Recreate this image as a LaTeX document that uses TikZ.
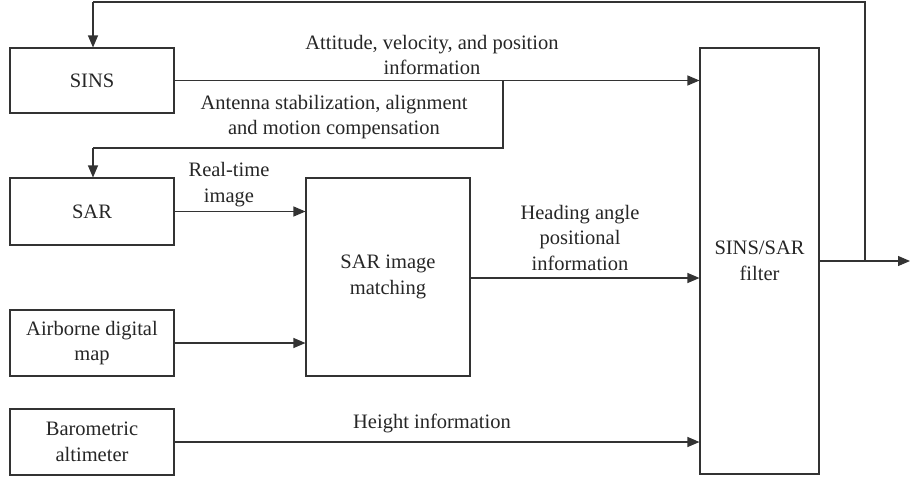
\documentclass[tikz,border=0pt]{standalone}
\usepackage{fontspec}
\setmainfont{Liberation Serif}
\newfontfamily\labfont{Liberation Serif}
\usetikzlibrary{arrows.meta}
\begin{document}
\begin{tikzpicture}[x=1pt,y=-1pt,
  every node/.style={font=\labfont\fontsize{20.5}{25.5}\selectfont, text=black!85, align=center, inner sep=0pt},
  blk/.style={draw=black!80, line width=1.1pt, minimum width=164pt},
  con/.style={draw=black!80, line width=1.1pt},
  arr/.style={con, -{Triangle[length=12pt,width=10pt]}}]
\useasboundingbox (0,0) rectangle (910,477);
% blocks
\node[blk, minimum height=65pt] (sins) at (92,80.5) {SINS};
\node[blk, minimum height=67pt] (sar) at (92,211.5) {SAR};
\node[blk, minimum height=66pt] (air) at (92,343) {Airborne digital\\map};
\node[blk, minimum height=66pt] (baro) at (92,442) {Barometric\\altimeter};
\node[blk, minimum height=198pt] (match) at (388,277) {SAR image\\matching};
\node[blk, minimum width=119pt, minimum height=426pt] (filt) at (759.5,261) {SINS/SAR\\filter};
% coordinates
\coordinate (b1) at (503,80.5);
\coordinate (b2) at (503,148);
\coordinate (b3) at (93,148);
\coordinate (f1) at (865,261);
\coordinate (fend) at (910,261);
\coordinate (t1) at (865,2);
\coordinate (t2) at (93,2);
% connectors
\draw[arr] (sins.east) -- (sins.east -| filt.west);
\draw[con] (b1) -- (b2) -- (b3);
\draw[arr] (b3) -- (b3 |- sar.north);
\draw[arr] (filt.east |- f1) -- (fend);
\draw[con] (f1) -- (t1) -- (t2);
\draw[arr] (t2) -- (t2 |- sins.north);
\draw[arr] (sar.east) -- (sar.east -| match.west);
\draw[arr] (air.east) -- (air.east -| match.west);
\draw[arr] (match.east |- 0,278) -- (filt.west |- 0,278);
\draw[arr] (baro.east) -- (baro.east -| filt.west);
% labels
\node (l1) at (432,55) {Attitude, velocity, and position\\information};
\node (l2) at (334,117) {Antenna stabilization, alignment\\and motion compensation};
\node (l3) at (229,184.5) {Real-time\\image};
\node (l4) at (580,237.5) {Heading angle\\positional\\information};
\node (l5) at (432,423) {Height information};
\end{tikzpicture}
\end{document}
